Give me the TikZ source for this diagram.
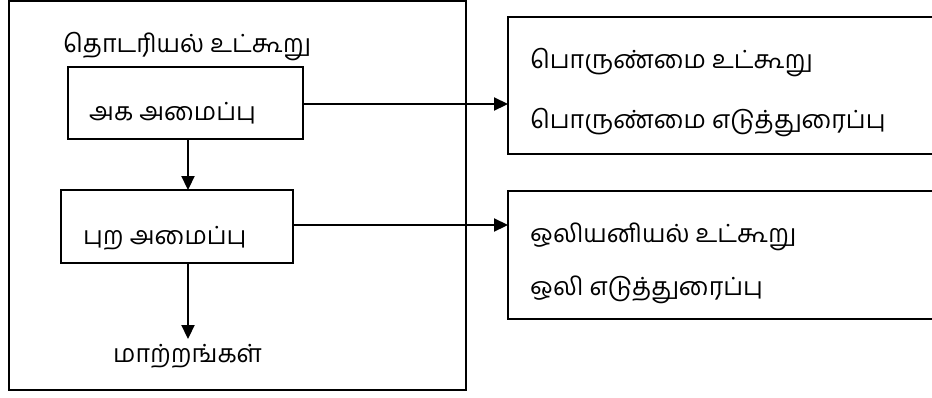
\documentclass[tikz,border=0pt]{standalone}
\usepackage{fontspec}
\newfontfamily\tamil[Script=Tamil]{Hind Madurai}
\usetikzlibrary{arrows.meta}
\tikzset{
  frame/.style={draw, line width=2.2pt},
  lbl/.style={anchor=base west, inner sep=0pt, font=\tamil\fontsize{25}{29}\selectfont},
  conn/.style={line width=2.2pt, -{Triangle[length=14pt,width=13pt]}},
}
\begin{document}
\begin{tikzpicture}[x=1pt,y=-1pt]
\useasboundingbox (0,0) rectangle (932,397);
\clip (0,0) rectangle (932,397);
\fill[white] (0,0) rectangle (932,397);
% outer frame
\draw[frame] (9,1) rectangle (466,390);
\node[lbl] (title) at (63,52) {தொடரியல் உட்கூறு};
% inner boxes
\draw[frame] (68,67) rectangle (303,139);
\node[lbl] (aka) at (89,120) {அக அமைப்பு};
\coordinate (akaR) at (303,104);
\coordinate (akaB) at (188,139);
\draw[frame] (61,190) rectangle (293,263);
\node[lbl] (pura) at (83,244) {புற அமைப்பு};
\coordinate (puraT) at (188,190);
\coordinate (puraR) at (293,225);
\coordinate (puraB) at (188,263);
\node[lbl] (mat) at (113,362) {மாற்றங்கள்};
\coordinate (matT) at (188,339);
% right boxes
\draw[frame] (508,17) rectangle (945,154);
\node[lbl] (r1a) at (530,68) {பொருண்மை உட்கூறு};
\node[lbl] (r1b) at (530,128) {பொருண்மை எடுத்துரைப்பு};
\coordinate (r1L) at (508,104);
\draw[frame] (508,191) rectangle (945,319);
\node[lbl] (r2a) at (530,242) {ஒலியனியல் உட்கூறு};
\node[lbl] (r2b) at (530,295) {ஒலி எடுத்துரைப்பு};
\coordinate (r2L) at (508,225);
% connectors
\draw[conn] (akaB) -- (puraT);
\draw[conn] (puraB) -- (matT);
\draw[conn] (akaR) -- (r1L);
\draw[conn] (puraR) -- (r2L);
\end{tikzpicture}
\end{document}
